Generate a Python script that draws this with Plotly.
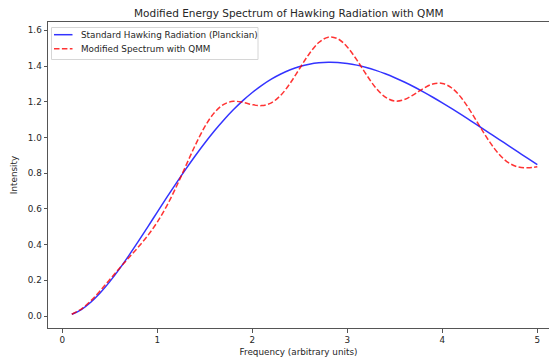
import plotly.graph_objects as go

freq = [0.1, 0.2, 0.3, 0.4, 0.5, 0.6, 0.7, 0.8, 0.9, 1.0,
        1.1, 1.2, 1.3, 1.4, 1.5, 1.6, 1.7, 1.8, 1.9, 2.0,
        2.1, 2.2, 2.3, 2.4, 2.5, 2.6, 2.7, 2.8, 2.9, 3.0,
        3.1, 3.2, 3.3, 3.4, 3.5, 3.6, 3.7, 3.8, 3.9, 4.0,
        4.1, 4.2, 4.3, 4.4, 4.5, 4.6, 4.7, 4.8, 4.9, 5.0]

standard = [0.0095, 0.0361, 0.0772, 0.1301, 0.1927, 0.2627, 0.3384, 0.4178, 0.4995, 0.5820,
            0.6641, 0.7448, 0.8231, 0.8981, 0.9694, 1.0362, 1.0981, 1.1549, 1.2063, 1.2521,
            1.2923, 1.3269, 1.3558, 1.3792, 1.3973, 1.4102, 1.4181, 1.4213, 1.4201, 1.4147,
            1.4054, 1.3925, 1.3762, 1.3570, 1.3350, 1.3106, 1.2841, 1.2556, 1.2255, 1.1941,
            1.1615, 1.1279, 1.0936, 1.0588, 1.0237, 0.9883, 0.9530, 0.9177, 0.8827, 0.8480]

modified = [0.0100, 0.0392, 0.0849, 0.1420, 0.2042, 0.2664, 0.3265, 0.3862, 0.4506, 0.5262,
            0.6173, 0.7240, 0.8408, 0.9572, 1.0603, 1.1387, 1.1858, 1.2025, 1.1973, 1.1840,
            1.1786, 1.1942, 1.2371, 1.3052, 1.3880, 1.4694, 1.5321, 1.5621, 1.5529, 1.5067,
            1.4344, 1.3524, 1.2783, 1.2265, 1.2042, 1.2122, 1.2406, 1.2744, 1.2998, 1.3031,
            1.2772, 1.2223, 1.1448, 1.0579, 0.9738, 0.9047, 0.8578, 0.8346, 0.8305, 0.8367]

series_names = ["Standard Hawking Radiation (Planckian)", "Modified Spectrum with QMM"]
x_ticks = [0, 1, 2, 3, 4, 5]
y_ticks = [0.0, 0.2, 0.4, 0.6, 0.8, 1.0, 1.2, 1.4, 1.6]

FONT = "DejaVu Sans"
TXT = "#262626"
FS = 8.8
BLUE = "rgba(0,0,255,0.8)"
RED = "rgba(255,0,0,0.8)"
DASH = "5.5px,2.4px"

fig = go.Figure()
fig.add_trace(go.Scatter(x=freq, y=standard, mode="lines", line_shape="spline",
                         name=series_names[0], line=dict(color=BLUE, width=1.5)))
fig.add_trace(go.Scatter(x=freq, y=modified, mode="lines", line_shape="spline",
                         name=series_names[1], line=dict(color=RED, width=1.5, dash=DASH)))

# plot area: x 48..549 px, y 22..328 px
W, L, T, H = 501.0, 48.0, 22.0, 306.0
def px(x):
    return (x - L) / W
def py(y):
    return (T + H - y) / H

shapes = [dict(type="rect", xref="paper", yref="paper",
               x0=px(51.5), x1=px(258), y0=py(59.5), y1=py(27.5),
               line=dict(color="#d6d6d6", width=1), fillcolor="rgba(255,255,255,0.8)", layer="above")]
annotations = []
rows = [(34.7, BLUE, "solid"), (48.7, RED, DASH)]
for (yy, col, dsh), name in zip(rows, series_names):
    shapes.append(dict(type="line", xref="paper", yref="paper",
                       x0=px(54), x1=px(72.5), y0=py(yy), y1=py(yy),
                       line=dict(color=col, width=1.5, dash=dsh), layer="above"))
    annotations.append(dict(text=name, xref="paper", yref="paper", x=px(79), y=py(yy),
                            xanchor="left", yanchor="middle", showarrow=False,
                            font=dict(family=FONT, size=FS, color=TXT)))

fig.update_layout(
    width=549, height=360,
    margin=dict(l=48, r=0, t=22, b=32),
    paper_bgcolor="white", plot_bgcolor="white",
    font=dict(family=FONT, size=FS, color=TXT),
    title=dict(text="Modified Energy Spectrum of Hawking Radiation with QMM",
               x=0.526, xanchor="center", y=0.962, yanchor="middle",
               font=dict(family=FONT, size=10.5, color=TXT)),
    showlegend=False,
    shapes=shapes,
    annotations=annotations,
)

fig.update_xaxes(range=[-0.1505, 5.123], tickvals=x_ticks, ticktext=[str(v) for v in x_ticks],
                 showgrid=False, zeroline=False, showline=True, linecolor="#555555", linewidth=1,
                 mirror=True, ticks="outside", ticklen=3.5, tickcolor="#555555",
                 tickfont=dict(family=FONT, size=FS, color=TXT),
                 title=dict(text="Frequency (arbitrary units)", standoff=4,
                            font=dict(family=FONT, size=FS, color=TXT)))
fig.update_yaxes(range=[-0.0672, 1.647], tickvals=y_ticks, ticktext=[f"{v:.1f}" for v in y_ticks],
                 showgrid=False, zeroline=False, showline=True, linecolor="#555555", linewidth=1,
                 ticks="outside", ticklen=3.5, tickcolor="#555555",
                 tickfont=dict(family=FONT, size=FS, color=TXT),
                 title=dict(text="Intensity", standoff=8,
                            font=dict(family=FONT, size=FS, color=TXT)))

fig.write_html("out.html")
